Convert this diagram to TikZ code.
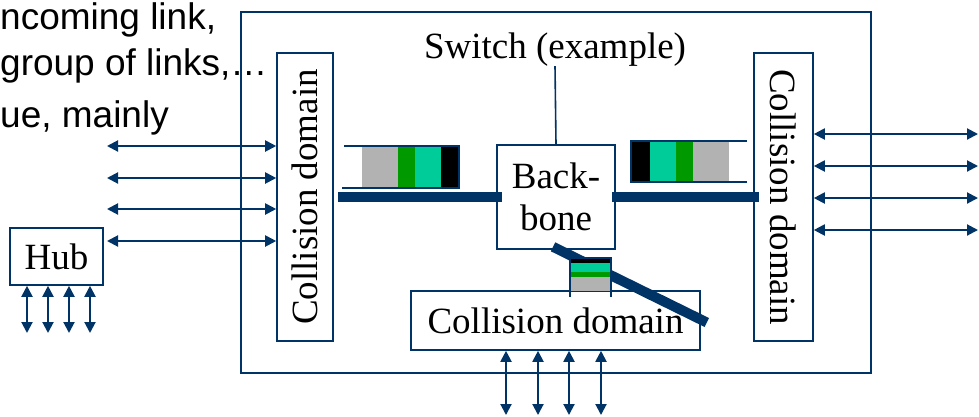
\documentclass[tikz,border=0pt]{standalone}
\usepackage{fontspec}
\setmainfont{Liberation Serif}
\newfontfamily\slidesans{Liberation Sans}
\usepackage{tikz}
\usetikzlibrary{arrows.meta}
\usetikzlibrary{calc}
\definecolor{navy}{RGB}{0,51,102}
\definecolor{qgray}{RGB}{178,178,178}
\definecolor{qgreen}{RGB}{0,153,0}
\definecolor{qteal}{RGB}{0,204,153}

\begin{document}
\begin{tikzpicture}[
  x=1pt, y=-1pt,
  font=\fontsize{37}{42}\selectfont,
  box/.style={draw=navy, line width=1.6pt, inner sep=0pt, align=center},
  link/.style={{Triangle[length=11pt,width=11pt]}-{Triangle[length=11pt,width=11pt]}, draw=navy, line width=2pt},
  bar/.style={draw=navy, line width=10pt},
  queue/.style={draw=navy, line width=1.6pt},
  note/.style={font=\slidesans\fontsize{37}{43}\selectfont, anchor=base west, inner sep=0pt}
]
\useasboundingbox (0,0) rectangle (979,416);

% Switch frame and its label
\node[box, minimum width=630pt, minimum height=361pt] (switch) at (556,192.5) {};
\node[inner sep=0pt, anchor=base] (swlabel) at (555,58) {Switch (example)};

% Backbone and the three collision domains
\node[box, minimum width=118pt, minimum height=104pt] (backbone) at (556,197) {Back-\\bone};
\node[box, rotate=90, minimum width=288pt, minimum height=56pt] (lcd) at (305,197) {Collision domain};
\node[box, rotate=-90, minimum width=288pt, minimum height=59pt] (rcd) at (783.5,197) {Collision domain};
\node[box, minimum width=289pt, minimum height=59pt] (bcd) at (555.5,320.5) {Collision domain};
\node[box, minimum width=93pt, minimum height=57pt] (hub) at (56.5,256.5) {Hub};

\draw[navy, line width=1.6pt] (swlabel.south) -- (backbone.north);

% Backbone bars
\draw[bar] ([xshift=4pt]lcd.south) -- ([xshift=6pt]backbone.west);
\draw[bar] ([xshift=-4pt]backbone.east) -- ([xshift=6pt]rcd.south);
\draw[bar] ([shift={(-3pt,3pt)}]backbone.south) -- ([shift={(6pt,-2pt)}]bcd.east);

% Queue towards the left domain
\fill[qgray] (362,147) rectangle (398,188);
\fill[qgreen] (398,147) rectangle (415,188);
\fill[qteal] (415,147) rectangle (441,188);
\fill[black] (441,147) rectangle (459,188);
\draw[queue] (344,146) -- (459,146) -- (459,188) -- (342,188);

% Queue towards the right domain
\fill[black] (631,142) rectangle (650,182);
\fill[qteal] (650,142) rectangle (676,182);
\fill[qgreen] (676,142) rectangle (693,182);
\fill[qgray] (693,142) rectangle (729,182);
\draw[queue] (747,141) -- (631,141) -- (631,182) -- (747,182);

% Queue towards the lower domain
\fill[black] (570,258) rectangle (611,263);
\fill[qteal] (570,263) rectangle (611,272);
\fill[qgreen] (570,272) rectangle (611,277);
\fill[qgray] (570,277) rectangle (611,291);
\draw[queue] (570,297) -- (570,258) -- (611,258) -- (611,297);

% Links
\foreach \y in {146,178,209,241} {
  \coordinate (l\y) at (107,\y);
  \draw[link] (l\y) -- (l\y -| lcd.north);
}
\foreach \y in {134,166,198,230} {
  \coordinate (r\y) at (978,\y);
  \draw[link] (r\y -| rcd.north) -- (r\y);
}
\foreach \x in {506,538,569,601} {
  \coordinate (b\x) at (\x,415);
  \draw[link] (b\x |- bcd.south) -- (b\x);
}
\foreach \x in {27,48,69,90} {
  \coordinate (h\x) at (\x,333);
  \draw[link] (h\x |- hub.south) -- (h\x);
}

% Slide text, cut at the left edge
\node[note] (t1) at (0,29) {ncoming link,};
\node[note] (t2) at (0,75) {group of links,…};
\node[note] (t3) at (0,127) {ue, mainly};

\end{tikzpicture}
\end{document}
